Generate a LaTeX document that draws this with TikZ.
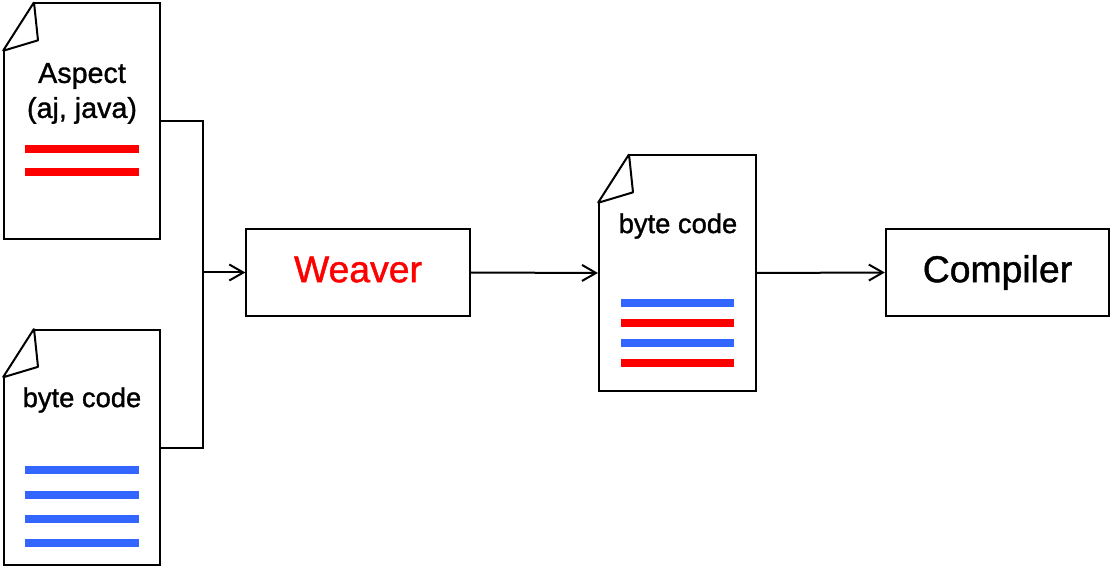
\documentclass[tikz,border=0pt]{standalone}
\usepackage{fontspec}
\setmainfont{Liberation Sans}[RawFeature={embolden=1.2}]
\usetikzlibrary{arrows.meta, positioning}
\tikzset{docNode/.style={shape=rectangle, draw, line width=1.5pt, minimum width=117pt, minimum height=176.5pt, inner sep=0pt}}
\tikzset{boxNode/.style={shape=rectangle, draw, line width=1.5pt, minimum width=167.5pt, minimum height=65.25pt, inner sep=0pt, text height=20.4pt, text depth=5.9pt, font=\fontsize{28}{32}\selectfont}}
\tikzset{docLabel/.style={shape=rectangle, align=center, inner sep=0pt, font=\fontsize{20.5}{26}\selectfont}}
\tikzset{flowLine/.style={line width=1.5pt}}
\tikzset{flowArrow/.style={line width=1.5pt, -{Straight Barb[length=10.5pt, width=12pt, line width=1.5pt]}}}
\tikzset{bar/.style={line width=6pt}}
\definecolor{barBlue}{HTML}{3366FF}
\definecolor{barRed}{HTML}{FF0000}
% dog-eared corner of a document node
\newcommand{\docFold}[1]{
  \fill[white] ([shift={(-2,-2)}]#1.north west) rectangle ([shift={(30,48)}]#1.north west);
  \draw[line width=1.5pt, line join=bevel, fill=white] ([shift={(31,0)}]#1.north west) -- ([shift={(0,48.5)}]#1.north west) -- ([shift={(35,38)}]#1.north west) -- cycle;
}

\begin{document}
\begin{tikzpicture}[x=0.75pt, y=-0.75pt]

\useasboundingbox (0,0) rectangle (1110,566);

% Aspect document
\node[docNode] (aspect) at (82,121) {};
\docFold{aspect}
\node[docLabel, font=\fontsize{21.5}{26.25}\selectfont] (aspectText) at (82,93.5) {Aspect\\(aj, java)};
\foreach \y in {149,172} {
  \draw[bar, barRed] (25,\y) -- (139,\y);
}

% Input byte code document
\node[docNode] (inCode) at (82,447.5) {};
\docFold{inCode}
\node[docLabel] (inCodeText) at (82,400) {byte code};
\foreach \y in {470,495,519,543} {
  \draw[bar, barBlue] (25,\y) -- (139,\y);
}

% Weaver
\node[boxNode, text=red] (weaver) at (358,272.5) {Weaver};

% Output byte code document
\node[docNode, minimum width=117.75pt] (outCode) at (677.5,273) {};
\docFold{outCode}
\node[docLabel] (outCodeText) at (678,226) {byte code};
\foreach \y/\c in {303/barBlue,323/barRed,343/barBlue,363/barRed} {
  \draw[bar, \c] (621,\y) -- (734,\y);
}

% Compiler
\node[boxNode] (compiler) at (997.5,272.5) {Compiler};

% Connectors
\coordinate (merge) at (203,272.5);
\draw[flowLine] (aspect.east) -| (merge);
\draw[flowLine] (inCode.east) -| (merge);
\draw[flowArrow] (merge) -- (weaver.west);
\draw[flowArrow] (weaver.east) -- (outCode.west);
\draw[flowArrow] (outCode.east) -- (compiler.west);

\end{tikzpicture}
\end{document}
